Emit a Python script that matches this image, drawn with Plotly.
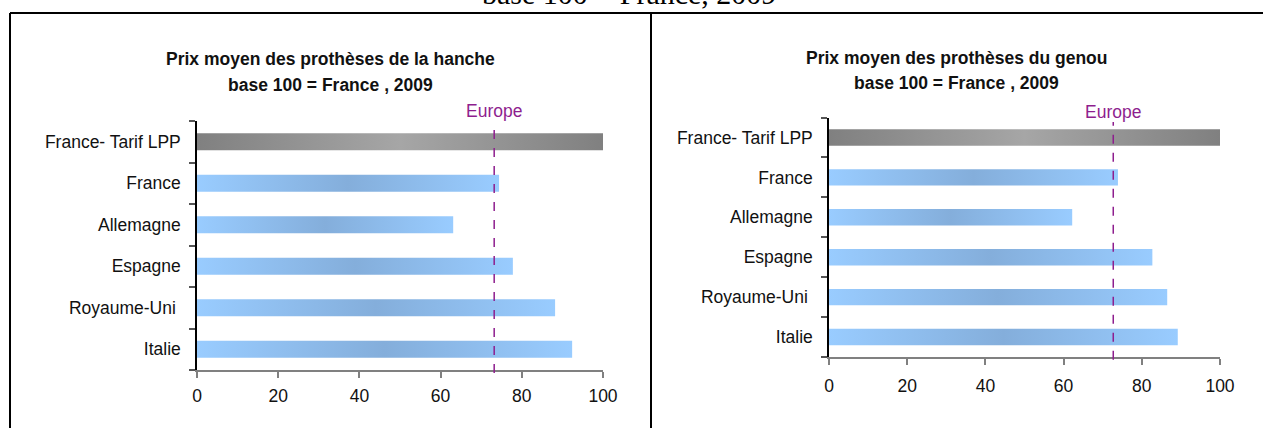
import plotly.graph_objects as go

W, H = 1263, 428

categories = ["France- Tarif LPP", "France", "Allemagne", "Espagne", "Royaume-Uni ", "Italie"]
hanche_values = [100, 74.4, 63.1, 77.8, 88.2, 92.4]
genou_values = [100, 73.9, 62.2, 82.7, 86.5, 89.2]
europe_hanche = 73.2
europe_genou = 72.7
x_ticks = [0, 20, 40, 60, 80, 100]

title_hanche = ["Prix moyen des prothèses de la hanche", "base 100 = France , 2009"]
title_genou = ["Prix moyen des prothèses du genou", "base 100 = France , 2009"]
page_title = "base 100 = France, 2009"

FONT = "Liberation Sans Narrow, Arial Narrow, Liberation Sans, Arial, sans-serif"
BLUE_GRAD = [[0, "#99CCFF"], [0.5, "#84AEDB"], [1, "#99CCFF"]]
GRAY_GRAD = [[0, "#808080"], [0.5, "#A6A6A6"], [1, "#808080"]]
HALF = 0.205
PURPLE = "#8E1E8E"
FS = 17.5

def px_x(p):
    return p / W

def px_y(p):
    return 1 - p / H

fig = go.Figure()

def add_bars(values, xa, ya):
    for i, v in enumerate(values):
        grad = GRAY_GRAD if i == 0 else BLUE_GRAD
        fig.add_trace(go.Scatter(
            x=[0, v, v, 0, 0],
            y=[i - HALF, i - HALF, i + HALF, i + HALF, i - HALF],
            mode="lines", fill="toself",
            line=dict(width=0, color="rgba(0,0,0,0)"),
            fillgradient=dict(type="horizontal", colorscale=grad),
            xaxis=xa, yaxis=ya, showlegend=False, hoverinfo="skip",
        ))

add_bars(hanche_values, "x", "y")
add_bars(genou_values, "x2", "y2")

n = len(categories)

def xaxis_cfg(domain, anchor, standoff):
    return dict(
        domain=domain, anchor=anchor, range=[0, 100], automargin=False,
        tickmode="array", tickvals=x_ticks, ticktext=[str(t) for t in x_ticks],
        ticks="outside", ticklen=6, tickcolor="#808080", tickwidth=1.5,
        showline=True, linecolor="#808080", linewidth=2,
        showgrid=False, zeroline=False,
        tickfont=dict(family=FONT, size=FS, color="#111111"),
        ticklabelstandoff=standoff, fixedrange=True,
    )

def yaxis_cfg(domain, anchor):
    return dict(
        domain=domain, anchor=anchor, range=[n - 0.5, -0.5], automargin=False,
        tickmode="array", tickvals=list(range(n)), ticktext=categories,
        ticks="", showline=True, linecolor="#000000", linewidth=1.5,
        showgrid=False, zeroline=False,
        minor=dict(tickmode="array", tickvals=[i - 0.5 for i in range(n + 1)],
                   ticks="outside", ticklen=6, tickcolor="#555555", tickwidth=1.5,
                   showgrid=False),
        tickfont=dict(family=FONT, size=FS, color="#111111"),
        ticklabelstandoff=11, fixedrange=True,
    )

shapes = []
annotations = []

for xa, ya, ev, tx, title, ys, dash_top, lab_y in [
    ("x", "y", europe_hanche, 330, title_hanche, (59, 85), 1.0, 111),
    ("x2", "y2", europe_genou, 956, title_genou, (58, 83), 0.981, 112),
]:
    shapes.append(dict(type="line", xref=xa, yref=ya + " domain", x0=ev, x1=ev,
                       y0=-0.012, y1=dash_top, line=dict(color=PURPLE, width=1.5, dash="dash")))
    annotations.append(dict(text="Europe", xref=xa, yref="paper", x=ev, y=px_y(lab_y),
                            xanchor="center", yanchor="middle", showarrow=False,
                            font=dict(family=FONT, size=FS, color=PURPLE)))
    for line, yy in zip(title, ys):
        annotations.append(dict(text="<b>" + line + "</b>",
                                xref="paper", yref="paper", x=px_x(tx), y=px_y(yy),
                                xanchor="center", yanchor="middle", showarrow=False,
                                font=dict(family=FONT, size=FS, color="#111111")))

annotations.append(dict(text=page_title, xref="paper", yref="paper", x=px_x(629), y=px_y(12),
                        xanchor="center", yanchor="bottom", showarrow=False,
                        font=dict(family="Liberation Serif, Times New Roman, serif", size=30,
                                  color="#000000")))

# frame lines
shapes.append(dict(type="line", xref="paper", yref="paper", x0=px_x(10), x1=px_x(1263),
                   y0=px_y(13), y1=px_y(13), line=dict(color="black", width=2)))
shapes.append(dict(type="line", xref="paper", yref="paper", x0=px_x(10), x1=px_x(10),
                   y0=px_y(13), y1=px_y(430), line=dict(color="black", width=2)))
shapes.append(dict(type="line", xref="paper", yref="paper", x0=px_x(651), x1=px_x(651),
                   y0=px_y(13), y1=px_y(430), line=dict(color="black", width=2)))

fig.update_layout(
    width=W, height=H, autosize=False,
    margin=dict(l=0, r=0, t=0, b=0, pad=0),
    paper_bgcolor="white", plot_bgcolor="white",
    xaxis=xaxis_cfg([px_x(197), px_x(603)], "y", 3),
    yaxis=yaxis_cfg([px_y(370), px_y(121)], "x"),
    xaxis2=xaxis_cfg([px_x(829), px_x(1220)], "y2", 6),
    yaxis2=yaxis_cfg([px_y(357), px_y(117.5)], "x2"),
    shapes=shapes, annotations=annotations,
    showlegend=False,
)

fig.write_html("out.html",
               config={"displayModeBar": False, "responsive": False},
               post_script="document.documentElement.style.overflow='hidden';"
                           "document.body.style.margin='0';document.body.style.overflow='hidden';")
